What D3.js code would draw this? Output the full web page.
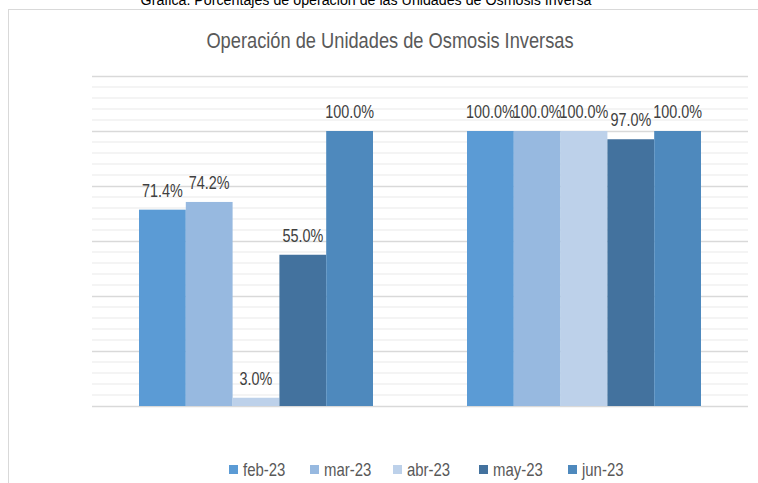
<!DOCTYPE html>
<html>
<head>
<meta charset="utf-8">
<script src="https://cdn.jsdelivr.net/npm/d3@7"></script>
<style>
  body { margin: 0; background: #fff; }
  text { font-family: "Liberation Sans", Arial, sans-serif; }
</style>
</head>
<body>
<div id="chart"></div>
<script>
// data
var groups   = [ "g1", "g2" ];
var months   = [ "feb-23", "mar-23", "abr-23", "may-23", "jun-23" ];
var values   = [
    [ 71.4, 100.0 ],   // feb-23
    [ 74.2, 100.0 ],   // mar-23
    [ 3.0, 100.0 ],    // abr-23
    [ 55.0, 97.0 ],    // may-23
    [ 100.0, 100.0 ]   // jun-23
];
var colors   = [ "#5B9BD5", "#97B9E0", "#BDD1EA", "#43729E", "#4E89BD" ];
var y_ticks  = [ 0, 20, 40, 60, 80, 100, 120 ];

// --------------------------------------------------------
var chart_width  = 758;
var chart_height = 483;
var plot = { left: 92, right: 748, top: 76, bottom: 406 };
var narrow = 0.8;   // no narrow font installed, so squeeze the text

var svg = d3.select( "#chart" )
    .append( "svg" )
    .attr( "width", chart_width )
    .attr( "height", chart_height );

// place a text at (x, y) squeezed horizontally
function squeeze( x, y, k ) {
    return "translate(" + x + "," + y + ") scale(" + ( k || narrow ) + ",1)";
}

// frame
svg.append( "rect" )
    .attr( "x", 8.5 ).attr( "y", 9.5 )
    .attr( "width", 760 ).attr( "height", 500 )
    .attr( "fill", "none" )
    .attr( "stroke", "#D9D9D9" );

// caption (cut off at the top, as in the source)
svg.append( "text" )
    .attr( "transform", squeeze( 366, 5, 0.95 ) )
    .attr( "text-anchor", "middle" )
    .attr( "font-size", 15 )
    .attr( "fill", "#000" )
    .text( "Gráfica. Porcentajes de operación de las Unidades de Osmosis Inversa" );

// title
svg.append( "text" )
    .attr( "transform", squeeze( 390, 48, 0.83 ) )
    .attr( "text-anchor", "middle" )
    .attr( "font-size", 22 )
    .attr( "fill", "#595959" )
    .text( "Operación de Unidades de Osmosis Inversas" );

// --------------------------------------------------------
// scales
var x0 = d3.scaleBand()
    .domain( groups )
    .range( [ plot.left, plot.right ] )
    .paddingInner( 0.2866 )
    .paddingOuter( 0.1433 );

var x1 = d3.scaleBand()
    .domain( months )
    .range( [ 0, x0.bandwidth() ] );

var y = d3.scaleLinear()
    .domain( [ 0, 120 ] )
    .range( [ plot.bottom, plot.top ] );

// minor gridlines every 4%
var minor = d3.range( 0, 121, 4 ).filter( function ( d ) { return d % 20 !== 0; } );
svg.append( "g" )
    .selectAll( "line" )
    .data( minor )
    .enter()
    .append( "line" )
    .attr( "x1", plot.left ).attr( "x2", plot.right )
    .attr( "y1", function ( d ) { return y( d ); } )
    .attr( "y2", function ( d ) { return y( d ); } )
    .attr( "stroke", "#F0F0F0" )
    .attr( "stroke-width", 1.3 );

// major gridlines
var y_axis = d3.axisLeft( y )
    .tickValues( y_ticks )
    .tickSize( -( plot.right - plot.left ) )
    .tickFormat( "" );

svg.append( "g" )
    .attr( "class", "y-grid" )
    .attr( "transform", "translate(" + plot.left + ",0)" )
    .call( y_axis )
    .call( function ( g ) {
        g.select( ".domain" ).remove();
        g.selectAll( "line" ).attr( "stroke", "#D9D9D9" ).attr( "stroke-width", 1.5 );
    } );

// --------------------------------------------------------
// bars
var series = svg.append( "g" )
    .selectAll( "g" )
    .data( months )
    .enter()
    .append( "g" )
    .attr( "fill", function ( d, i ) { return colors[ i ]; } );

function rows( m, i ) {
    return groups.map( function ( g, j ) { return { g: g, m: m, v: values[ i ][ j ] }; } );
}

series.selectAll( "rect" )
    .data( rows )
    .enter()
    .append( "rect" )
    .attr( "x", function ( d ) { return x0( d.g ) + x1( d.m ); } )
    .attr( "y", function ( d ) { return y( d.v ); } )
    .attr( "width", x1.bandwidth() )
    .attr( "height", function ( d ) { return y( 0 ) - y( d.v ); } );

// data labels
series.selectAll( "text" )
    .data( rows )
    .enter()
    .append( "text" )
    .attr( "transform", function ( d ) {
        return squeeze( x0( d.g ) + x1( d.m ) + x1.bandwidth() / 2, y( d.v ) - 13 );
    } )
    .attr( "text-anchor", "middle" )
    .attr( "font-size", 18 )
    .attr( "fill", "#404040" )
    .text( function ( d ) { return d.v.toFixed( 1 ) + "%"; } );

// --------------------------------------------------------
// legend
var legend_x = [ 229, 310, 393, 479, 568 ];
var legend = svg.append( "g" )
    .selectAll( "g" )
    .data( months )
    .enter()
    .append( "g" )
    .attr( "transform", function ( d, i ) { return "translate(" + legend_x[ i ] + ",465)"; } );

legend.append( "rect" )
    .attr( "width", 9 ).attr( "height", 9 )
    .attr( "fill", function ( d, i ) { return colors[ i ]; } );

legend.append( "text" )
    .attr( "transform", squeeze( 14, 11, 0.83 ) )
    .attr( "font-size", 18 )
    .attr( "fill", "#595959" )
    .text( function ( d ) { return d; } );
</script>
</body>
</html>
